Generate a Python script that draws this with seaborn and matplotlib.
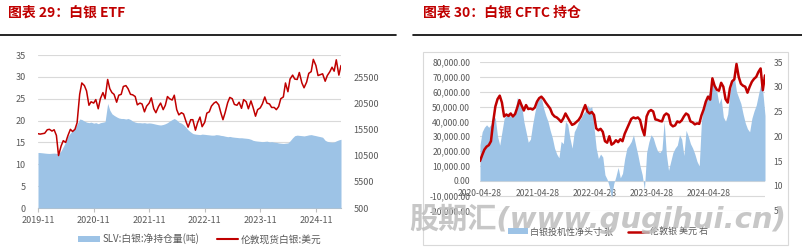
import numpy as np
import pandas as pd
import matplotlib
matplotlib.use('Agg')
import matplotlib.pyplot as plt
import matplotlib.dates as mdates
from matplotlib.lines import Line2D
from matplotlib.patches import Patch, Rectangle
from matplotlib.ticker import FuncFormatter
import seaborn as sns

sns.set_theme(style='white')
plt.rcParams['font.family'] = ['Noto Sans CJK SC', 'DejaVu Sans']
plt.rcParams['axes.unicode_minus'] = False

# ---------------- data: panel 1 (SLV ETF) ----------------
etf_dates = pd.date_range('2019-11-01', '2025-04-15', freq='SMS')
silver_spot = [
    17.0, 16.9, 17.0, 17.1, 17.9, 18.0, 17.6, 17.9, 16.6, 12.0,
    14.2, 15.4, 15.0, 16.5, 18.0, 17.5, 18.0, 19.5, 26.0, 28.6,
    28.0, 26.8, 23.5, 24.3, 24.0, 24.8, 22.7, 25.0, 26.4, 25.0,
    29.4, 27.3, 26.4, 26.0, 24.2, 25.8, 26.0, 27.8, 28.0, 27.3,
    26.0, 25.9, 25.5, 23.6, 24.0, 23.8, 22.0, 23.3, 24.0, 25.2,
    22.7, 21.8, 23.2, 24.0, 22.5, 23.5, 25.5, 25.0, 24.7, 25.8,
    22.5, 21.3, 21.8, 21.5, 19.8, 18.5, 20.2, 20.2, 17.8, 19.5,
    20.8, 18.6, 19.6, 21.7, 22.0, 23.3, 24.0, 24.3, 23.6, 21.8,
    20.2, 21.8, 24.1, 25.3, 25.0, 23.7, 23.5, 24.2, 22.8, 24.8,
    24.3, 22.7, 24.5, 23.0, 21.0, 22.5, 22.9, 23.8, 25.4, 24.0,
    23.8, 23.0, 23.0, 22.5, 23.2, 25.0, 25.4, 28.6, 26.6, 29.5,
    30.4, 29.5, 29.4, 31.0, 28.6, 27.5, 28.8, 30.8, 31.2, 34.0,
    32.6, 30.3, 30.5, 30.7, 29.0, 30.3, 31.2, 32.2, 31.3, 33.9,
    30.4, 32.6,
]
slv_tonnes = [
    11170, 11150, 11100, 11050, 11000, 10980, 11020, 11050, 11000, 10950,
    11500, 12300, 13200, 14300, 14900, 15400, 15800, 16600, 17600, 17500,
    17200, 17000, 16900, 17000, 16800, 16900, 16700, 16900, 17000, 17100,
    20600, 19300, 18600, 18300, 18000, 17800, 17700, 17700, 17600, 17700,
    17500, 17200, 17000, 16900, 16900, 16850, 16900, 16800, 16850, 16800,
    16700, 16600, 16500, 16450, 16550, 16700, 16900, 17200, 17500, 17700,
    17400, 17000, 16800, 16500, 16000, 15500, 15100, 14800, 14700, 14650,
    14600, 14700, 14650, 14600, 14550, 14500, 14500, 14600, 14550, 14450,
    14400, 14300, 14200, 14250, 14150, 14100, 14050, 14000, 14000, 13950,
    13900, 13850, 13700, 13500, 13400, 13350, 13300, 13250, 13300, 13350,
    13200, 13250, 13150, 13100, 13000, 12950, 12900, 12950, 13000, 13400,
    14000, 14400, 14500, 14450, 14400, 14350, 14450, 14550, 14600, 14500,
    14400, 14300, 14200, 14100, 13500, 13300, 13200, 13150, 13200, 13400,
    13600, 13700,
]
etf_year_ticks = pd.to_datetime(['2019-11-01', '2020-11-01', '2021-11-01',
                                 '2022-11-01', '2023-11-01', '2024-11-01'])

# ---------------- data: panel 2 (CFTC) ----------------
cftc_dates = pd.date_range('2020-04-28', periods=131, freq='14D')
cftc_net = [
    24200, 33000, 36000, 37700, 36000, 38000, 44000, 42000, 30000, 24000,
    33000, 42000, 44000, 46000, 43000, 45000, 47000, 56000, 54000, 51000,
    40000, 33000, 26000, 28000, 38000, 46000, 53000, 55000, 56000, 49000,
    44000, 40000, 34000, 29000, 22000, 18000, 15500, 26500, 25000, 40000,
    38000, 29000, 22000, 33000, 36000, 40000, 42000, 45000, 47000, 51000,
    49000, 50000, 36000, 22000, 15000, 18000, 16000, 4000, 1000, -4000,
    -11400, -2000, 3000, 9000, 2000, 5000, 15000, 22000, 24000, 26500,
    31000, 24000, 17500, 10000, 4000, -6000, 19000, 26000, 31000, 29000,
    24000, 20000, 19000, 21000, 40000, 18000, 7000, 13000, 19000, 22000,
    24000, 31000, 28000, 17000, 34000, 30000, 25000, 22000, 18000, 13000,
    10000, 40000, 51000, 55000, 58000, 60000, 67000, 62000, 60000, 52000,
    56000, 43000, 40000, 45000, 60000, 67000, 70000, 60000, 56000, 52000,
    45000, 39000, 35000, 33000, 42000, 47000, 51000, 58000, 65000, 60000,
    44000,
]
london_silver = [
    15.0, 16.2, 17.3, 17.9, 18.2, 19.0, 22.9, 26.0, 27.5, 28.2,
    26.8, 24.0, 24.4, 24.1, 24.6, 24.0, 24.5, 25.8, 27.3, 26.2,
    25.2, 26.3, 25.5, 25.6, 25.4, 25.8, 27.0, 27.7, 28.0, 27.5,
    26.8, 26.2, 25.6, 24.5, 24.0, 23.8, 23.4, 22.9, 23.6, 24.6,
    23.8, 23.0, 22.3, 22.5, 22.9, 23.3, 24.0, 25.2, 26.3, 25.0,
    24.6, 24.9, 24.3, 21.6, 21.2, 21.5, 20.9, 19.0, 18.7, 20.0,
    18.3, 18.6, 19.2, 18.8, 19.4, 19.0, 20.5, 21.5, 22.5, 23.5,
    23.8, 23.6, 23.8, 23.3, 21.5, 20.2, 24.0, 25.0, 25.3, 25.0,
    23.4, 23.3, 23.1, 23.0, 24.2, 24.6, 24.3, 22.4, 22.0, 22.2,
    23.0, 22.8, 23.2, 24.0, 24.6, 24.3, 23.0, 22.8, 22.4, 22.6,
    22.5, 24.2, 25.4, 27.0, 28.0, 27.4, 31.7, 30.2, 29.4, 29.2,
    30.8, 30.0, 27.5, 26.8, 29.7, 31.1, 31.5, 34.6, 32.0, 30.6,
    30.2, 30.0, 28.8, 30.0, 31.0, 31.6, 32.0, 33.0, 33.7, 29.3,
    32.3,
]
cftc_year_ticks = pd.to_datetime(['2020-04-28', '2021-04-28', '2022-04-28',
                                  '2023-04-28', '2024-04-28'])

titles = ['图表 29：白银 ETF', '图表 30：白银 CFTC 持仓']
legend1 = ['SLV:白银:净持仓量(吨)', '伦敦现货白银:美元']
legend2 = ['白银投机性净头寸 张', '伦敦银 美元 右']
watermark = '股期汇(www.gugihui.cn)'

# ---------------- styling ----------------
RED = '#C00000'
BLUE = '#9DC3E6'
GRID = '#D9D9D9'
TXT = '#595959'
W, H = 802, 247

fig = plt.figure(figsize=(W / 100, H / 100), dpi=100)
fig.patch.set_facecolor('white')


def fx(px):
    return px / W


def fy(py):
    return 1 - py / H


# ---------------- panel 1 ----------------
axL = fig.add_axes([fx(38), fy(208), fx(341) - fx(38), fy(55) - fy(208)])
axL.set_ylim(0, 35)
axL.set_yticks(range(0, 36, 5))
axL.grid(axis='y', color=GRID, lw=0.8)
axL.set_axisbelow(True)
for s in ['top', 'left', 'right']:
    axL.spines[s].set_visible(False)
axL.spines['bottom'].set_color('#BFBFBF')
axL.spines['bottom'].set_linewidth(0.8)
axL.tick_params(axis='y', length=0, pad=9, labelsize=6.5, labelcolor=TXT)
axL.tick_params(axis='x', length=3, width=0.8, color='#BFBFBF', pad=2.5,
                labelsize=6.5, labelcolor=TXT, direction='out', bottom=True)

axLb = axL.twinx()
axLb.fill_between(etf_dates, slv_tonnes, 500, color=BLUE, lw=0)
axLb.set_ylim(500, 29900)
axLb.set_yticks(range(500, 25501, 5000))
axLb.tick_params(axis='y', length=0, pad=9, labelsize=6.5, labelcolor=TXT)
for s in axLb.spines.values():
    s.set_visible(False)

axLr = axL.twinx()
sns.lineplot(x=etf_dates, y=silver_spot, ax=axLr, color=RED, lw=1.1)
axLr.set_ylim(0, 35)
axLr.set_yticks([])
axLr.set_ylabel('')
for s in axLr.spines.values():
    s.set_visible(False)

axL.set_xlim(etf_dates[0], etf_dates[-1])
axL.set_xticks(etf_year_ticks)
axL.xaxis.set_major_formatter(mdates.DateFormatter('%Y-%m'))
axL.set_xlabel('')

# ---------------- panel 2 ----------------
axR = fig.add_axes([fx(480), fy(210.5), fx(765) - fx(480), fy(62) - fy(210.5)])
axR.fill_between(cftc_dates, cftc_net, 0, color=BLUE, lw=0)
axR.set_ylim(-20000, 80000)
axR.set_yticks(range(-20000, 80001, 10000))
axR.yaxis.set_major_formatter(FuncFormatter(lambda v, p: f'{v:,.2f}'))
axR.grid(axis='y', color=GRID, lw=0.8)
axR.set_axisbelow(True)
for s in ['top', 'left', 'right', 'bottom']:
    axR.spines[s].set_visible(False)
axR.spines['bottom'].set_position(('data', 0))
axR.tick_params(axis='y', length=0, pad=7, labelsize=6.2, labelcolor=TXT)
axR.tick_params(axis='x', length=0, pad=6, labelsize=6.2, labelcolor=TXT)
axR.set_xlim(cftc_dates[0], cftc_dates[-1])
axR.set_xticks(cftc_year_ticks)
axR.xaxis.set_major_formatter(mdates.DateFormatter('%Y-%m-%d'))

axR2 = axR.twinx()
sns.lineplot(x=cftc_dates, y=london_silver, ax=axR2, color=RED, lw=1.8)
axR2.set_ylim(5, 35)
axR2.set_yticks(range(5, 36, 5))
axR2.tick_params(axis='y', length=0, pad=6, labelsize=6.2, labelcolor=TXT)
axR2.set_ylabel('')
for s in axR2.spines.values():
    s.set_visible(False)
axR.set_xlabel('')

# ---------------- titles, rules, frame ----------------
fig.text(fx(8), fy(12.5), titles[0], color=RED, fontsize=10, fontweight='bold',
         ha='left', va='center')
fig.text(fx(423), fy(12.5), titles[1], color=RED, fontsize=10, fontweight='bold',
         ha='left', va='center')
fig.add_artist(Line2D([0, fx(396)], [fy(35), fy(35)], color='black', lw=1.2,
                      transform=fig.transFigure))
fig.add_artist(Line2D([fx(413), 1], [fy(35), fy(35)], color='black', lw=1.2,
                      transform=fig.transFigure))
fig.add_artist(Rectangle((fx(423), fy(245)), fx(788) - fx(423), fy(52) - fy(245),
                         transform=fig.transFigure, fill=False,
                         edgecolor=GRID, lw=0.8))

# ---------------- legends ----------------
lg1 = fig.legend(handles=[Patch(facecolor=BLUE, edgecolor='none'),
                          Line2D([], [], color=RED, lw=1.5)],
                 labels=legend1, loc='center', bbox_to_anchor=(fx(200), fy(239)),
                 ncol=2, frameon=False, fontsize=7, handlelength=2.2,
                 handleheight=0.6, handletextpad=0.3, columnspacing=1.8)
for t in lg1.get_texts():
    t.set_color(TXT)
lg2 = fig.legend(handles=[Patch(facecolor=BLUE, edgecolor='none'),
                          Line2D([], [], color=RED, lw=1.8)],
                 labels=legend2, loc='center', bbox_to_anchor=(fx(608), fy(232)),
                 ncol=2, frameon=False, fontsize=6.5, handlelength=2.2,
                 handleheight=0.6, handletextpad=0.3, columnspacing=1.6)
for t in lg2.get_texts():
    t.set_color(TXT)

# ---------------- watermark ----------------
fig.text(fx(598), fy(219), watermark, family=['DejaVu Sans', 'Noto Sans CJK SC'],
         fontsize=21, fontweight='bold', style='italic', color='#BDBDBD',
         alpha=0.85, ha='center', va='center', zorder=10)

fig.savefig('out.png', dpi=100, facecolor='white')
